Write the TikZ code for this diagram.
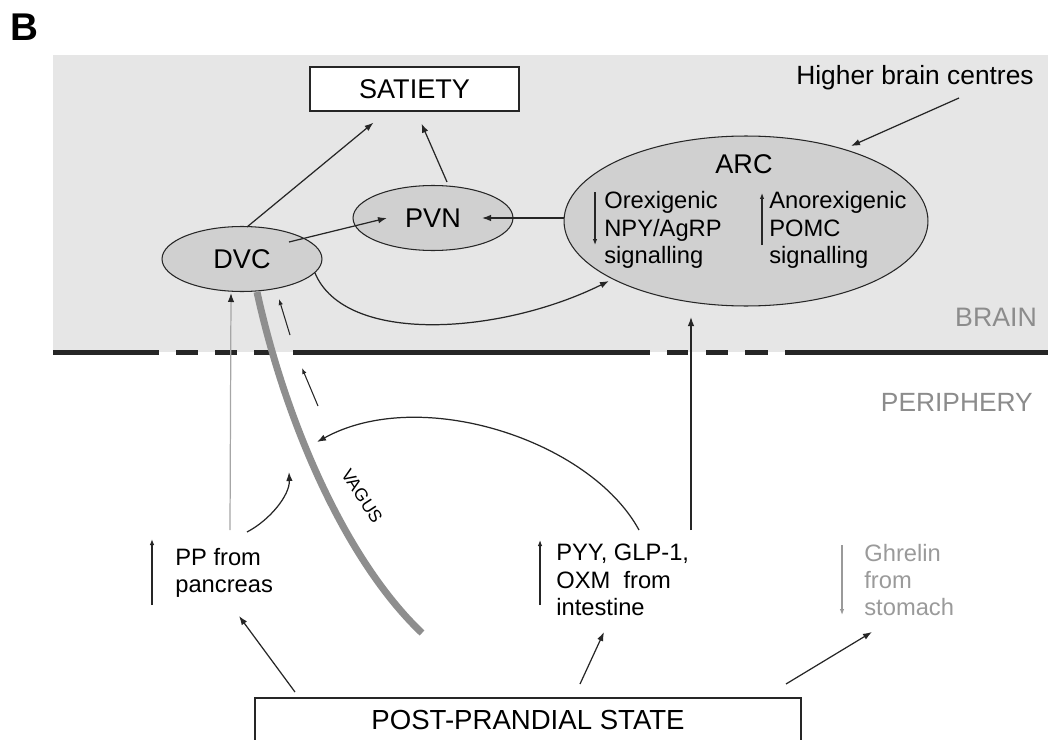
\documentclass[tikz,border=0pt]{standalone}
\usepackage{fontspec}
\setmainfont{Liberation Sans}
\usetikzlibrary{arrows.meta,shapes.geometric,calc}
\definecolor{brainbg}{HTML}{E6E6E6}
\definecolor{nucfill}{HTML}{D0D0D0}
\definecolor{vagusgray}{HTML}{8E8E8E}
\definecolor{labelgray}{HTML}{8C8C8C}
\definecolor{ghrelingray}{HTML}{9A9A9A}
\definecolor{linkdark}{HTML}{262626}

\begin{document}
\begin{tikzpicture}[x=0.02cm,y=-0.02cm,
    nucleus/.style={ellipse,draw=linkdark,fill=nucfill,inner sep=0pt,
      line width=0.6pt,font=\fontsize{15.4}{17}\selectfont},
    boxnode/.style={rectangle,draw=linkdark,fill=white,inner sep=0pt,
      line width=0.7pt,font=\fontsize{15.4}{17}\selectfont},
    txt/.style={font=\fontsize{13.5}{15.6}\selectfont,align=left,inner sep=0pt},
    arr/.style={draw=linkdark,line width=0.7pt,-{Latex[length=0.18cm,width=0.13cm]}},
    ind/.style={draw=linkdark,line width=0.6pt,-{Latex[length=0.12cm,width=0.09cm]}}]

  \clip (0,0) rectangle (1048,740);

  % ---- Brain compartment -------------------------------------
  \fill[brainbg] (53,55) rectangle (1048,352);
  \foreach \a/\b in {53/159,176/198,215/237,254/275,293/650,667/688,706/728,745/768,785/1048}
    \draw[black!85,line width=0.1cm] (\a,352) -- (\b,352);

  \node[font=\fontsize{22}{24}\selectfont\bfseries] (panel) at (24,27) {B};
  \node[font=\fontsize{15.2}{17}\selectfont,text=labelgray,anchor=east] (brain) at (1043,317) {BRAIN};
  \node[font=\fontsize{15}{17}\selectfont,text=labelgray,anchor=east] (periphery) at (1039,402) {PERIPHERY};

  % Nuclei and satiety
  \node[boxnode,minimum width=4.18cm,minimum height=0.88cm] (satiety) at (414.5,89) {SATIETY};
  \node[nucleus,minimum width=3.2cm,minimum height=1.3cm] (dvc) at (242,259) {DVC};
  \node[nucleus,minimum width=3.2cm,minimum height=1.3cm] (pvn) at (433,218) {PVN};
  \node[nucleus,minimum width=7.28cm,minimum height=3.4cm] (arc) at (746,221) {};
  \node[font=\fontsize{15.4}{17}\selectfont] (arclabel) at (744,164) {ARC};
  \node[txt,anchor=west] (orex) at (604,230) {Orexigenic\\NPY/AgRP\\signalling};
  \node[txt,anchor=west] (anorex) at (769,230) {Anorexigenic\\POMC\\signalling};
  \node[font=\fontsize{15}{17}\selectfont] (higher) at (915,78) {Higher brain centres};

  % ---- Periphery ---------------------------------------------
  \node[txt,anchor=west] (pp) at (175,573) {PP from\\pancreas};
  \node[txt,anchor=west] (pyy) at (556,580) {PYY, GLP-1,\\OXM\ \ from\\intestine};
  \node[txt,anchor=west,text=ghrelingray] (ghrelin) at (864,580) {Ghrelin\\from\\stomach};
  \node[boxnode,minimum width=10.92cm,minimum height=0.88cm,font=\fontsize{15.7}{17}\selectfont]
    (post) at (528,720) {POST-PRANDIAL STATE};

  % Vagus nerve
  \draw[vagusgray,line width=0.14cm] ([shift={(15,33)}]dvc.center)
    .. controls (285,420) and (345,560) .. (422,633);
  \node[font=\fontsize{10}{12}\selectfont,rotate=-57] (vaguslabel) at (362,496) {VAGUS};
  \coordinate (vagin) at (317,442);
  \coordinate (ppend) at (289,472);

  % ---- Connectors inside the brain ---------------------------
  \draw[arr] ([shift={(5,1)}]dvc.north) -- ([shift={(-41,11)}]satiety.south);
  \draw[arr] ([shift={(14,-3)}]pvn.north) -- ([shift={(7,12)}]satiety.south);
  \draw[arr] ([shift={(47,-17)}]dvc.center) -- ([shift={(-46,0)}]pvn.center);
  \draw[arr] ([shift={(0,-3)}]arc.west) -- ([shift={(49,0)}]pvn.center);
  \draw[arr] ([shift={(73,14)}]dvc.center) .. controls +(30,72) and +(-109,54)
    .. ([shift={(-137,60)}]arc.center);
  \draw[arr] ([shift={(44,20)}]higher.center) -- ([shift={(105,-75)}]arc.center);
  \draw[ind] ([shift={(-9,-38)}]orex.west) -- ([shift={(-9,15)}]orex.west);
  \draw[ind] ([shift={(-7,15)}]anorex.west) -- ([shift={(-7,-37)}]anorex.west);

  % Signals travelling up the vagus
  \draw[ind] (290,335) -- (279,299);
  \draw[ind] (318,406) -- (302,368);

  % ---- Connectors from the periphery -------------------------
  \draw[black!35,line width=0.7pt,-{Latex[length=0.18cm,width=0.13cm,color=linkdark]}]
    ([shift={(55,-43)}]pp.west) -- ([shift={(-11,34)}]dvc.center);
  \draw[arr] ([shift={(72,-41)}]pp.west) .. controls +(23,-12) and +(1,23) .. (ppend);
  \draw[arr] ([shift={(135,-50)}]pyy.west) -- ([shift={(-55,96)}]arc.center);
  \draw[arr] ([shift={(83,-50)}]pyy.west) .. controls +(-49,-90) and +(103,-57) .. (vagin);
  \draw[ind] ([shift={(-23,32)}]pp.west) -- ([shift={(-23,-34)}]pp.west);
  \draw[ind] ([shift={(-16,25)}]pyy.west) -- ([shift={(-16,-40)}]pyy.west);
  \draw[ind,draw=ghrelingray,-{Latex[length=0.12cm,width=0.09cm,color=ghrelingray]}]
    ([shift={(-22,-35)}]ghrelin.west) -- ([shift={(-22,35)}]ghrelin.west);

  \draw[arr] ([shift={(-233,-28)}]post.center) -- ([shift={(64,43)}]pp.west);
  \draw[arr] ([shift={(52,-36)}]post.center) -- ([shift={(48,52)}]pyy.west);
  \draw[arr] ([shift={(258,-36)}]post.center) -- ([shift={(8,52)}]ghrelin.west);

\end{tikzpicture}
\end{document}
